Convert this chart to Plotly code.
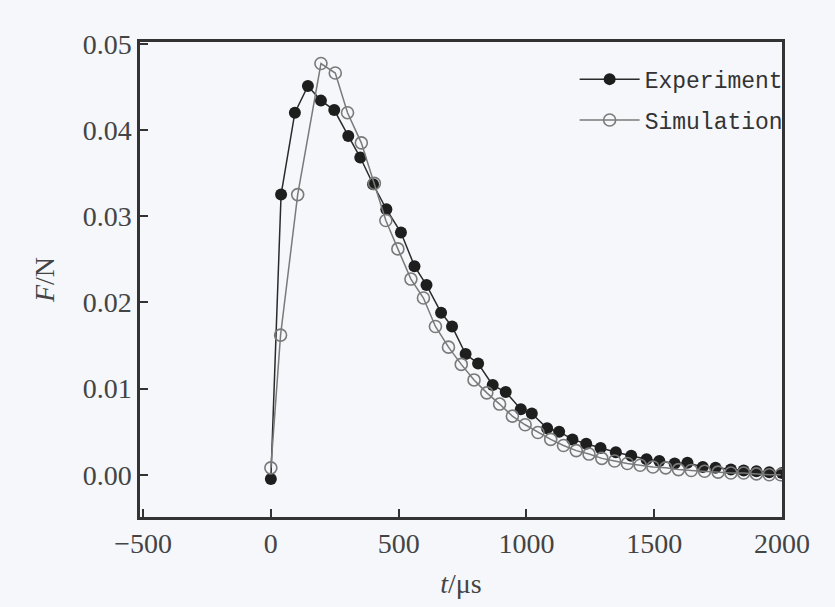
import plotly.graph_objects as go

# Experiment (filled markers)
exp_t = [0, 40, 94, 145, 196, 248, 303, 350, 400, 452, 509, 562, 609, 666, 709, 762,
         811, 868, 919, 978, 1021, 1081, 1128, 1180, 1234, 1290, 1350, 1410, 1470,
         1520, 1580, 1630, 1690, 1740, 1800, 1850, 1900, 1950, 2000]
exp_F = [-0.0005, 0.0325, 0.0420, 0.0451, 0.0434, 0.0423, 0.0393, 0.0368, 0.0337,
         0.0308, 0.0281, 0.0242, 0.0220, 0.0188, 0.0172, 0.0140, 0.0129, 0.0104,
         0.0096, 0.0076, 0.0071, 0.0054, 0.0050, 0.0041, 0.0036, 0.0031, 0.0026,
         0.0022, 0.0018, 0.0016, 0.0013, 0.0014, 0.0009, 0.0008, 0.0006, 0.0005,
         0.0004, 0.0003, 0.0002]

# Simulation (open markers)
sim_t = [0, 38, 105, 196, 252, 300, 354, 405, 450, 497, 548, 597, 644, 695, 745,
         795, 845, 895, 945, 995, 1045, 1095, 1145, 1195, 1245, 1295, 1345, 1395,
         1445, 1495, 1545, 1595, 1645, 1697, 1750, 1800, 1850, 1900, 1950, 1995]
sim_F = [0.0008, 0.0162, 0.0325, 0.0477, 0.0466, 0.0420, 0.0385, 0.0338, 0.0295,
         0.0262, 0.0227, 0.0205, 0.0172, 0.0148, 0.0128, 0.0110, 0.0095, 0.0082,
         0.0068, 0.0058, 0.0049, 0.0041, 0.0034, 0.0028, 0.0024, 0.0019, 0.0016,
         0.0013, 0.0011, 0.0009, 0.0008, 0.0006, 0.0005, 0.0004, 0.0003, 0.0002,
         0.0002, 0.0001, 0.0000, 0.0000]

x_ticks = [-500, 0, 500, 1000, 1500, 2000]
y_ticks = [0.00, 0.01, 0.02, 0.03, 0.04, 0.05]

axis_color = "#333333"
tick_font = dict(family="Liberation Serif", size=28, color="#444444")

fig = go.Figure()
fig.add_trace(go.Scatter(
    x=exp_t, y=exp_F, mode="lines+markers", name="Experiment", legendgroup="e",
    line=dict(color="#2a2a2a", width=1.5),
    marker=dict(symbol="circle", size=12, color="#1e1e1e"),
))
fig.add_trace(go.Scatter(
    x=sim_t, y=sim_F, mode="lines+markers", name="Simulation", legendgroup="s",
    line=dict(color="#7a7a7a", width=1.5),
    marker=dict(symbol="circle-open", size=12, color="#7a7a7a", line=dict(width=1.6)),
))

fig.update_layout(
    width=835, height=607,
    margin=dict(l=140, r=53, t=42, b=86),
    paper_bgcolor="#f5f7fa", plot_bgcolor="#f5f7fa",
    showlegend=True,
    legend=dict(x=0.677, y=0.967, xanchor="left", yanchor="top",
                bgcolor="rgba(0,0,0,0)", borderwidth=0,
                font=dict(family="Liberation Mono", size=23, color="#333333"),
                itemwidth=60, tracegroupgap=8),
    xaxis=dict(range=[-512, 2000], tickvals=x_ticks, ticks="inside", ticklen=8,
               tickwidth=2, tickcolor=axis_color, showline=True, linecolor=axis_color,
               linewidth=2.5, mirror=True, showgrid=False, zeroline=False,
               tickfont=tick_font,
               title=dict(text="<i>t</i>/μs", font=dict(family="Liberation Serif", size=28, color="#444444"), standoff=16)),
    yaxis=dict(range=[-0.0049, 0.0502], tickvals=y_ticks, tickformat=".2f", ticks="inside",
               ticklen=8, tickwidth=2, tickcolor=axis_color, showline=True,
               linecolor=axis_color, linewidth=2.5, mirror=True, showgrid=False,
               zeroline=False, tickfont=tick_font,
               title=dict(text="<i>F</i>/N", font=dict(family="Liberation Serif", size=28, color="#444444"), standoff=20)),
)

fig.write_html("out.html")
